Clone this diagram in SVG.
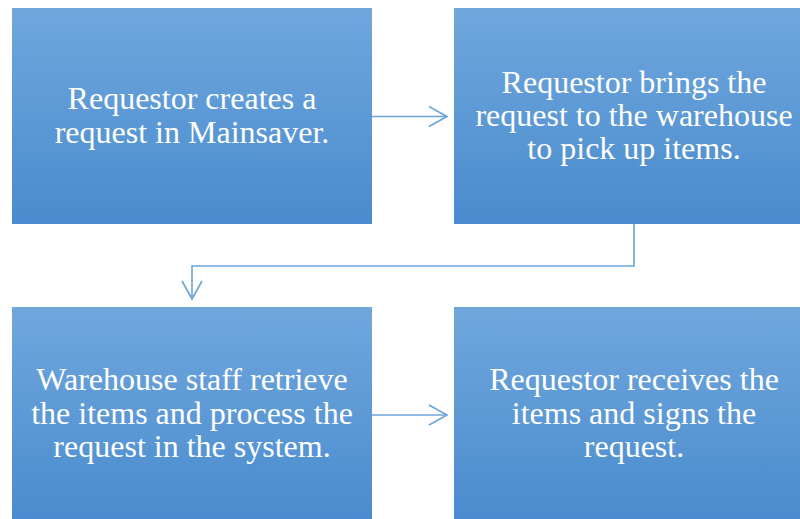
<svg xmlns="http://www.w3.org/2000/svg" width="800" height="519" viewBox="0 0 800 519">
  <defs>
    <linearGradient id="boxFill" x1="0" y1="0" x2="0" y2="1">
      <stop offset="0" stop-color="#70a7dd"/>
      <stop offset="1" stop-color="#498bce"/>
    </linearGradient>
    <marker id="chevron" markerUnits="userSpaceOnUse" markerWidth="24" markerHeight="24" refX="19" refY="11" orient="auto">
      <path d="M1,1 L19,11 L1,21" fill="none" stroke="#6aa4db" stroke-width="1.6"/>
    </marker>
  </defs>
  <style>
    .box { fill: url(#boxFill); }
    .label { font-family: "Liberation Serif", "Times New Roman", serif; font-size: 32px; fill: #ffffff; text-anchor: middle; }
    .link { fill: none; stroke: #6aa4db; stroke-width: 1.6; marker-end: url(#chevron); }
  </style>
  <rect width="800" height="519" fill="#ffffff"/>

  <g id="connectors">
    <path class="link" d="M372,116.5 L447,116.5"/>
    <path class="link" d="M634,224 L634,266 L192,266 L192,299"/>
    <path class="link" d="M372,415 L447,415"/>
  </g>

  <g id="node-create">
    <rect class="box" x="12" y="8" width="360" height="216"/>
    <text class="label" x="192" y="109">Requestor creates a</text>
    <text class="label" x="192" y="142.5">request in Mainsaver.</text>
  </g>

  <g id="node-bring">
    <rect class="box" x="454" y="8" width="360" height="216"/>
    <text class="label" x="634" y="92.5">Requestor brings the</text>
    <text class="label" x="634" y="125.5">request to the warehouse</text>
    <text class="label" x="634" y="158.5">to pick up items.</text>
  </g>

  <g id="node-retrieve">
    <rect class="box" x="12" y="307" width="360" height="216"/>
    <text class="label" x="192" y="390">Warehouse staff retrieve</text>
    <text class="label" x="192" y="423.5">the items and process the</text>
    <text class="label" x="192" y="457">request in the system.</text>
  </g>

  <g id="node-receive">
    <rect class="box" x="454" y="307" width="360" height="216"/>
    <text class="label" x="634" y="390">Requestor receives the</text>
    <text class="label" x="634" y="423.5">items and signs the</text>
    <text class="label" x="634" y="457">request.</text>
  </g>
</svg>
